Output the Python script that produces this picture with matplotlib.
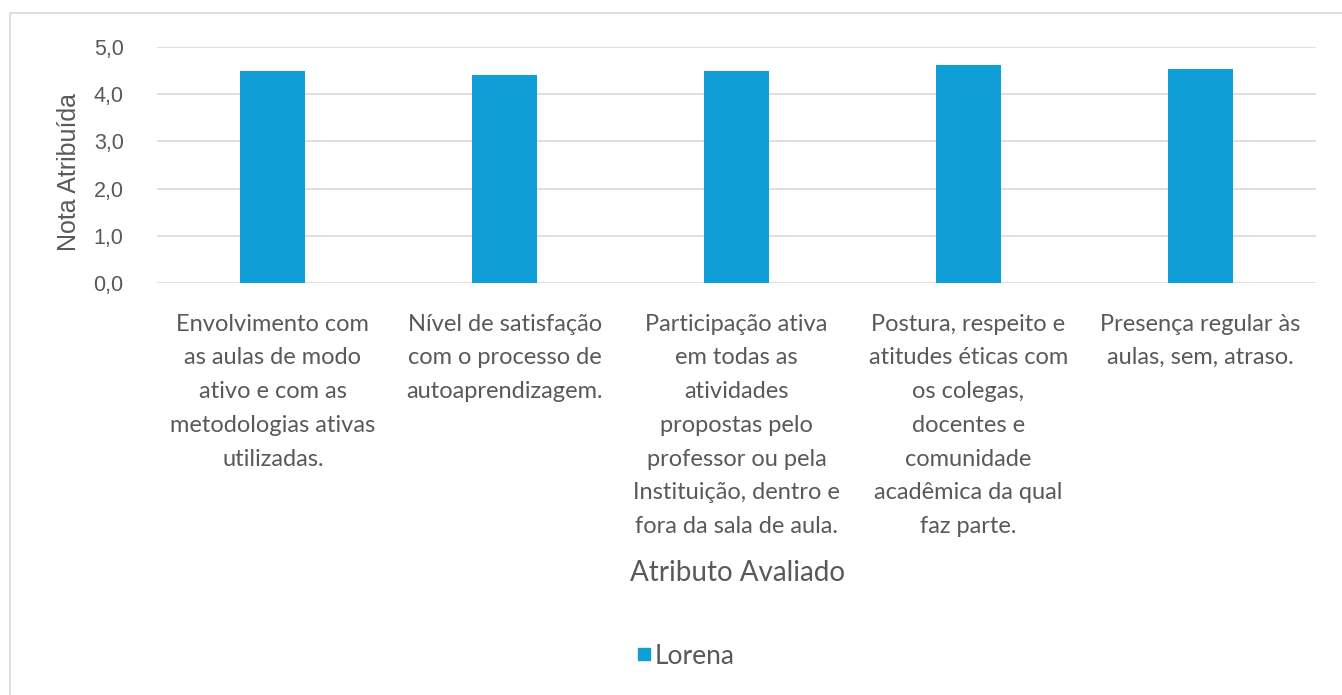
import matplotlib.pyplot as plt
import matplotlib.patches as patches
from matplotlib.lines import Line2D
import numpy as np

# Data
categories = [
    "Envolvimento com\nas aulas de modo\nativo e com as\nmetodologias ativas\nutilizadas.",
    "Nível de satisfação\ncom o processo de\nautoaprendizagem.",
    "Participação ativa\nem todas as\natividades\npropostas pelo\nprofessor ou pela\nInstituição, dentro e\nfora da sala de aula.",
    "Postura, respeito e\natitudes éticas com\nos colegas,\ndocentes e\ncomunidade\nacadêmica da qual\nfaz parte.",
    "Presença regular às\naulas, sem, atraso.",
]
notas = [4.49, 4.41, 4.49, 4.62, 4.53]
y_ticks = [0, 1, 2, 3, 4, 5]
y_tick_labels = ["0,0", "1,0", "2,0", "3,0", "4,0", "5,0"]
serie = "Lorena"

bar_color = "#0F9ED5"
text_color = "#595959"
grid_color = "#D9D9D9"

fig = plt.figure(figsize=(13.42, 6.95), dpi=100)
ax = fig.add_axes([0.117, 0.5928, 0.8636, 0.3396])

x = np.arange(len(categories))
ax.bar(x, notas, width=0.28, color=bar_color, label=serie, zorder=3)

ax.set_xlim(-0.5, len(categories) - 0.5)
ax.set_ylim(0, 5)
ax.set_yticks(y_ticks)
ax.set_yticklabels(y_tick_labels, family=["Liberation Sans", "DejaVu Sans"],
                   fontsize=15.5, color=text_color)
ax.set_xticks(x)
ax.set_xticklabels(categories, family=["Lato", "DejaVu Sans"], fontsize=17,
                   color=text_color, linespacing=1.75, va="top")
ax.tick_params(axis="both", length=0)
ax.tick_params(axis="x", pad=22)
ax.tick_params(axis="y", pad=24)
ax.grid(axis="y", color=grid_color, linewidth=1.2, zorder=0)
for s in ax.spines.values():
    s.set_visible(False)

ax.set_ylabel("Nota Atribuída", family=["Liberation Sans", "DejaVu Sans"],
              fontsize=18, color=text_color)
ax.yaxis.set_label_coords(-0.066, 0.47)
fig.text(737 / 1342, 1 - 573 / 695, "Atributo Avaliado", family=["Lato", "DejaVu Sans"],
         fontsize=20, color=text_color, ha="center", va="center")

# legend
handle = Line2D([], [], marker="s", linestyle="", color=bar_color, markersize=8)
fig.legend([handle], [serie], loc="center", bbox_to_anchor=(686 / 1342, 1 - 656 / 695),
           frameon=False, prop={"family": ["Lato", "DejaVu Sans"], "size": 19},
           labelcolor=text_color, handlelength=0.5, handletextpad=0.15)

# chart area border (top and left visible)
fig.patches.append(patches.Rectangle((10 / 1342, -0.1), 1.2, 1 - 13 / 695 + 0.1,
                                     transform=fig.transFigure, fill=False,
                                     edgecolor="#D9D9D9", linewidth=1.2))

fig.savefig("out.png", dpi=100)
